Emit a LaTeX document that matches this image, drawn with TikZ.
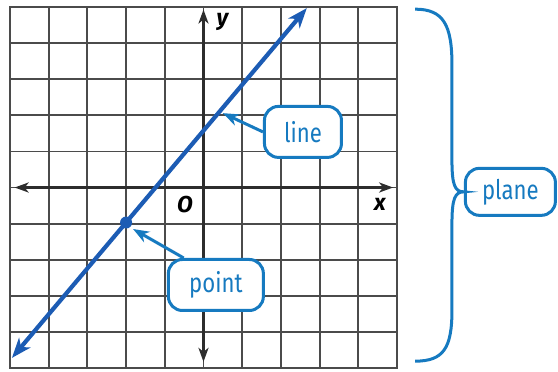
\documentclass[tikz,border=0pt]{standalone}
\usepackage{fontspec}
\setmainfont{Fira Sans}
\newfontfamily\tagfont[FakeStretch=0.82]{Fira Sans}
\usetikzlibrary{arrows.meta, positioning, calc}
\definecolor{gridgray}{RGB}{75,75,75}
\definecolor{axisgray}{RGB}{45,45,45}
\definecolor{lineblue}{RGB}{28,92,180}
\definecolor{tagblue}{RGB}{22,122,192}

\begin{document}
\begin{tikzpicture}[
x=38.7pt, y=36.1pt,
gridline/.style={gridgray, line width=1.8pt},
axis/.style={{Stealth[length=14pt,width=10pt,inset=4pt]}-{Stealth[length=14pt,width=10pt,inset=4pt]}, axisgray, line width=3pt},
blueline/.style={{Stealth[length=20pt,width=15pt,inset=6pt]}-{Stealth[length=20pt,width=15pt,inset=6pt]}, lineblue, line width=4.2pt},
tag/.style={draw=tagblue, line width=3pt, rounded corners=14pt, fill=white, text=tagblue, font=\tagfont\fontsize{27}{27}\selectfont, minimum height=51pt},
pointer/.style={-{Stealth[length=16pt,width=12pt,inset=5pt]}, tagblue, line width=3pt},
brace/.style={tagblue, line width=3pt},
axlabel/.style={font=\bfseries\itshape\fontsize{23}{23}\selectfont, inner sep=0pt}
]
\useasboundingbox (-5.258,-5.083) rectangle (9.160,5.194);

% grid
\foreach \i in {-5,...,5} {
  \draw[gridline] (\i,-5) -- (\i,5);
  \draw[gridline] (-5,\i) -- (5,\i);
}
\draw[gridline, line width=2.2pt] (-5,-5) rectangle (5,5);

% axes
\coordinate (xl) at (-4.88,0);
\coordinate (xr) at (4.9,0);
\coordinate (yb) at (0,-4.83);
\coordinate (yt) at (0,4.93);
\draw[axis] (xl) -- (xr);
\draw[axis] (yb) -- (yt);
\node[axlabel] (ylab) at (0.49,4.58) {y};
\node[axlabel] (xlab) at (4.56,-0.48) {x};
\node[axlabel] (orig) at (-0.48,-0.48) {O};

% line and point
\coordinate (lo) at (-4.95,-4.72);
\coordinate (hi) at (2.67,4.97);
\draw[blueline] (lo) -- (hi);
\node[circle, fill=lineblue, inner sep=0pt, minimum size=12pt] (pt) at (-2,-0.97) {};

% callouts
\node[tag, minimum width=77pt] (line) at (2.57,1.54) {line};
\node[tag, minimum width=95pt] (point) at (0.32,-2.70) {point};
\node[tag, minimum width=90pt, minimum height=47pt] (plane) at (7.93,-0.12) {plane};

\coordinate (linehit) at (0.50,2.06);
\coordinate (pointhit) at (-1.82,-1.15);
\draw[pointer] (line.west) -- (linehit);
\draw[pointer] (point.140) -- (pointhit);

% brace
\draw[brace] (5.47,4.94) .. controls (6.2,4.94) and (6.42,4.5) .. (6.42,3.4)
  -- (6.42,0.75) .. controls (6.42,0.05) and (6.5,-0.12) .. (plane.west)
  .. controls (6.5,-0.12) and (6.42,-0.3) .. (6.42,-1.0)
  -- (6.42,-3.4) .. controls (6.42,-4.45) and (6.2,-4.81) .. (5.47,-4.81);

\end{tikzpicture}
\end{document}
